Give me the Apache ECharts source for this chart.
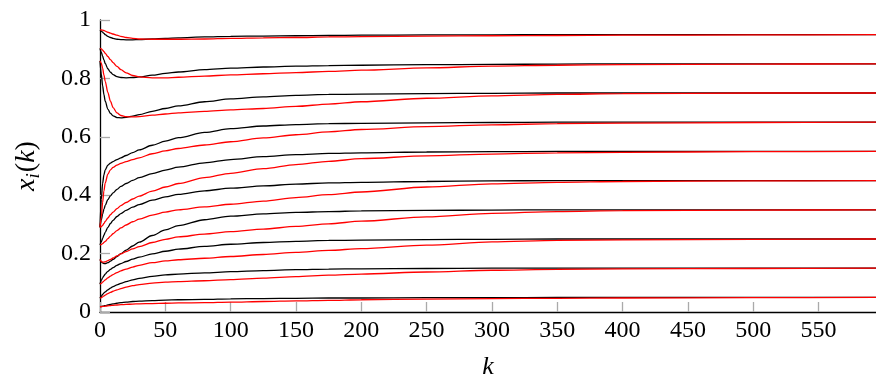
<!DOCTYPE html>
<html>
<head>
<meta charset="utf-8">
<script src="https://cdn.jsdelivr.net/npm/echarts@6/dist/echarts.min.js"></script>
<style>
  html, body { margin: 0; padding: 0; background: #fff; }
  #chart { width: 876px; height: 377px; }
</style>
</head>
<body>
<div id="chart"></div>
<script>
var kSteps = [0, 1, 2, 3, 4, 6, 8, 10, 13, 16, 20, 25, 30, 40, 50, 60, 80, 100, 125, 150, 175, 200, 250, 300, 350, 400, 500, 594];

// black curves, one per limit level (0.95 down to 0.05)
var black95 = [.966, .962, .958, .954, .950, .944, .940, .937, .934, .933, .932, .932, .933, .935, .937, .939, .942, .944, .945, .946, .947, .948, .949, .949, .950, .950, .950, .950];
var black85 = [.903, .890, .876, .863, .851, .833, .821, .813, .806, .803, .802, .803, .805, .811, .817, .822, .830, .835, .839, .842, .844, .845, .847, .848, .849, .850, .850, .850];
var black75 = [.860, .815, .775, .745, .722, .695, .680, .672, .666, .665, .667, .671, .676, .687, .697, .706, .720, .730, .737, .742, .745, .746, .748, .749, .750, .750, .750, .750];
var black65 = [.290, .385, .440, .470, .487, .503, .510, .515, .522, .528, .536, .546, .555, .571, .585, .597, .615, .628, .637, .642, .645, .646, .648, .649, .650, .650, .650, .650];
var black55 = [.290, .315, .335, .352, .365, .385, .398, .408, .420, .430, .440, .451, .460, .474, .486, .496, .511, .522, .532, .539, .543, .545, .548, .549, .550, .550, .550, .550];
var black45 = [.230, .240, .252, .263, .273, .290, .303, .314, .327, .337, .348, .359, .368, .383, .394, .403, .415, .424, .432, .438, .442, .444, .447, .449, .450, .450, .450, .450];
var black35 = [.180, .172, .168, .166, .166, .169, .174, .180, .190, .200, .212, .226, .239, .262, .281, .296, .316, .328, .336, .341, .344, .346, .348, .349, .350, .350, .350, .350];
var black25 = [.095, .108, .117, .124, .130, .139, .146, .152, .160, .166, .173, .181, .188, .199, .208, .215, .225, .232, .238, .242, .245, .246, .248, .249, .250, .250, .250, .250];
var black15 = [.047, .054, .060, .065, .069, .076, .082, .087, .093, .098, .104, .110, .115, .122, .127, .130, .134, .138, .142, .145, .147, .148, .149, .150, .150, .150, .150, .150];
var black05 = [.018, .019, .020, .021, .022, .024, .026, .028, .030, .032, .034, .036, .037, .039, .041, .042, .043, .045, .046, .047, .048, .048, .049, .049, .050, .050, .050, .050];

// red curves, same limit levels
var red95 = [.966, .966, .965, .964, .962, .958, .955, .952, .948, .944, .940, .937, .935, .934, .934, .934, .935, .937, .939, .940, .942, .943, .945, .946, .947, .948, .949, .950];
var red85 = [.903, .901, .897, .892, .886, .875, .864, .854, .841, .830, .819, .810, .805, .802, .802, .804, .808, .812, .816, .820, .824, .828, .836, .842, .845, .847, .849, .850];
var red75 = [.860, .852, .835, .812, .790, .752, .722, .700, .682, .673, .669, .668, .669, .674, .678, .682, .687, .692, .697, .704, .712, .720, .732, .740, .745, .748, .750, .750];
var red65 = [.290, .325, .375, .415, .442, .472, .487, .495, .503, .509, .515, .522, .528, .542, .552, .560, .572, .583, .596, .607, .617, .625, .635, .641, .645, .647, .649, .650];
var red55 = [.290, .292, .297, .303, .310, .322, .333, .342, .354, .364, .375, .387, .397, .414, .428, .440, .460, .475, .491, .505, .516, .525, .535, .541, .545, .547, .549, .550];
var red45 = [.230, .231, .234, .238, .242, .251, .260, .268, .279, .288, .298, .309, .318, .332, .342, .350, .360, .369, .380, .392, .402, .411, .428, .439, .444, .447, .449, .450];
var red35 = [.180, .173, .171, .171, .172, .176, .180, .185, .192, .199, .207, .216, .224, .238, .249, .257, .267, .275, .284, .293, .302, .311, .326, .338, .344, .347, .349, .350];
var red25 = [.095, .098, .102, .106, .110, .117, .123, .128, .135, .141, .147, .154, .160, .169, .175, .179, .184, .190, .197, .204, .211, .217, .229, .240, .245, .247, .249, .250];
var red15 = [.047, .049, .052, .055, .058, .063, .067, .071, .076, .080, .085, .090, .094, .099, .102, .104, .107, .111, .116, .121, .126, .130, .137, .143, .146, .148, .149, .150];
var red05 = [.018, .018, .019, .019, .020, .021, .022, .023, .024, .025, .026, .027, .028, .029, .030, .031, .032, .034, .036, .038, .040, .042, .044, .046, .047, .048, .049, .050];

var blackSets = [black95, black85, black75, black65, black55, black45, black35, black25, black15, black05];
var redSets = [red95, red85, red75, red65, red55, red45, red35, red25, red15, red05];

var xTickStep = 50;
var yTickStep = 0.2;
var labelFont = 'Liberation Serif';

function pairUp(vals) {
  return kSteps.map(function (k, i) { return [k, vals[i]]; });
}

function makeLine(vals, color) {
  return {
    type: 'line',
    data: pairUp(vals),
    showSymbol: false,
    smooth: 0.3,
    smoothMonotone: 'x',
    silent: true,
    lineStyle: { color: color, width: 1.3 },
    z: color === '#000000' ? 2 : 3
  };
}

var seriesList = [];
for (var i = 0; i < blackSets.length; i++) {
  seriesList.push(makeLine(blackSets[i], '#000000'));
  seriesList.push(makeLine(redSets[i], '#ff0000'));
}

var chart = echarts.init(document.getElementById('chart'), null, { renderer: 'canvas' });

chart.setOption({
  animation: false,
  backgroundColor: '#ffffff',
  grid: { left: 100, right: 0, top: 20, bottom: 65, containLabel: false, outerBoundsMode: 'none' },
  xAxis: {
    type: 'value',
    min: 0,
    max: 594,
    interval: xTickStep,
    name: 'k',
    nameLocation: 'middle',
    nameGap: 42,
    nameTextStyle: { fontFamily: labelFont, fontStyle: 'italic', fontSize: 26, color: '#000' },
    axisLine: { show: true, onZero: false, lineStyle: { color: '#000', width: 1.3 } },
    axisTick: { show: true, inside: true, length: 10, lineStyle: { color: '#aaaaaa', width: 1.3 } },
    axisLabel: { fontFamily: labelFont, fontSize: 24, color: '#000', margin: 7, showMaxLabel: false },
    splitLine: { show: false }
  },
  yAxis: {
    type: 'value',
    min: 0,
    max: 1,
    interval: yTickStep,
    name: '{it|x}{sub|i}{n|(}{it|k}{n|)}',
    nameLocation: 'middle',
    nameRotate: 90,
    nameGap: 57,
    nameTextStyle: {
      rich: {
        it: { fontFamily: labelFont, fontStyle: 'italic', fontSize: 28, color: '#000' },
        sub: { fontFamily: labelFont, fontStyle: 'italic', fontSize: 19, color: '#000', padding: [13, 1, 0, 0] },
        n: { fontFamily: labelFont, fontSize: 28, color: '#000' }
      }
    },
    axisLine: { show: true, lineStyle: { color: '#000', width: 1.3 } },
    axisTick: { show: true, inside: true, length: 10, lineStyle: { color: '#aaaaaa', width: 1.3 } },
    axisLabel: {
      fontFamily: labelFont, fontSize: 24, color: '#000', margin: 9,
      formatter: function (v) { return String(Math.round(v * 10) / 10); }
    },
    splitLine: { show: false }
  },
  series: seriesList
});
</script>
</body>
</html>
